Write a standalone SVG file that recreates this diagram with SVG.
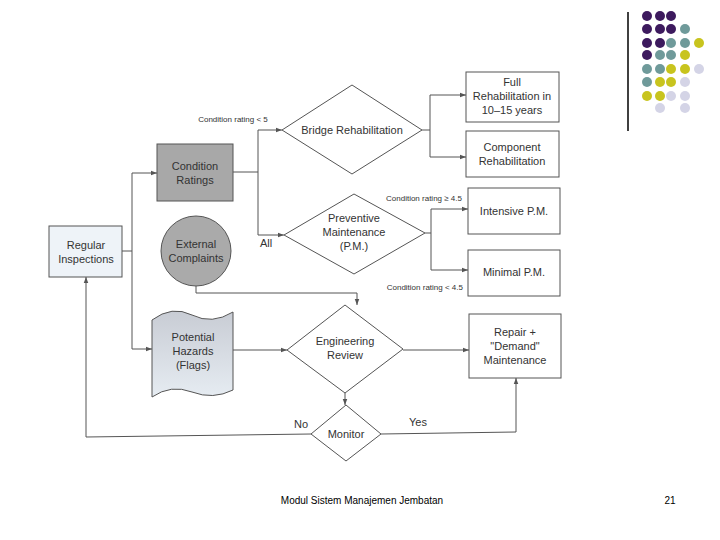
<svg xmlns="http://www.w3.org/2000/svg" width="720" height="540" viewBox="0 0 720 540">
<style>
text{font-family:"Liberation Sans",Arial,sans-serif;fill:#333;text-anchor:middle}
.t{font-size:11px}
.s{font-size:8px}
.box{fill:#fff;stroke:#555;stroke-width:1}
.ln{fill:none;stroke:#555;stroke-width:1}
.f{font-size:10px;fill:#000}
</style>
<defs>
<marker id="a" viewBox="0 0 8 8" refX="8" refY="4" markerWidth="6" markerHeight="6" orient="auto"><path d="M0,1 L8,4 L0,7z" fill="#555"/></marker>
<linearGradient id="g" x1="0" y1="0" x2="0" y2="1"><stop offset="0" stop-color="#c8ccd4"/><stop offset="1" stop-color="#e6ecf2"/></linearGradient>
</defs>
<rect width="720" height="540" fill="#fff"/>
<g id="deco">
<line x1="628" y1="12" x2="628" y2="131" stroke="#000" stroke-width="1.5"/>
<g fill="#3d1a5e"><circle cx="647" cy="16" r="5"/><circle cx="660" cy="16" r="5"/><circle cx="671" cy="16" r="5"/><circle cx="647" cy="29" r="5"/><circle cx="660" cy="29" r="5"/><circle cx="671" cy="29" r="5"/><circle cx="647" cy="43" r="5"/><circle cx="660" cy="43" r="5"/><circle cx="647" cy="55" r="5"/></g>
<g fill="#6f9a9a"><circle cx="685" cy="29" r="5"/><circle cx="671" cy="43" r="5"/><circle cx="685" cy="43" r="5"/><circle cx="660" cy="55" r="5"/><circle cx="671" cy="55" r="5"/><circle cx="647" cy="69" r="5"/><circle cx="660" cy="69" r="5"/><circle cx="647" cy="82" r="5"/></g>
<g fill="#c8c41e"><circle cx="699" cy="43" r="5"/><circle cx="685" cy="55" r="5"/><circle cx="671" cy="69" r="5"/><circle cx="685" cy="69" r="5"/><circle cx="660" cy="82" r="5"/><circle cx="671" cy="82" r="5"/><circle cx="647" cy="96" r="5"/><circle cx="660" cy="96" r="5"/></g>
<g fill="#d4d4e6"><circle cx="699" cy="69" r="5"/><circle cx="685" cy="82" r="5"/><circle cx="671" cy="96" r="5"/><circle cx="685" cy="96" r="5"/><circle cx="660" cy="108" r="5"/><circle cx="685" cy="108" r="5"/></g>
</g>
<g id="connectors" class="ln">
<path d="M122,251 H132 M132,173 V349"/>
<path d="M132,173 H157" marker-end="url(#a)"/>
<path d="M132,349 H152" marker-end="url(#a)"/>
<path d="M233,172 H258 M258,130 V235"/>
<path d="M258,130 H282" marker-end="url(#a)"/>
<path d="M258,235 H284" marker-end="url(#a)"/>
<path d="M422,130 H430 M430,95 V157"/>
<path d="M430,95 H466" marker-end="url(#a)"/>
<path d="M430,157 H466" marker-end="url(#a)"/>
<path d="M425,233 H431 M431,209 V270"/>
<path d="M431,209 H468" marker-end="url(#a)"/>
<path d="M431,270 H468" marker-end="url(#a)"/>
<path d="M196,286 V293 H357 V305" marker-end="url(#a)"/>
<path d="M233,350 H287" marker-end="url(#a)"/>
<path d="M403,350 H469" marker-end="url(#a)"/>
<path d="M345,393 V405" marker-end="url(#a)"/>
<path d="M311,434 L86,437 V277" marker-end="url(#a)"/>
<path d="M381,434 L516,432 V378" marker-end="url(#a)"/>
</g>
<g id="labels" class="s">
<text x="233" y="122">Condition rating &lt; 5</text>
<text x="462" y="201" text-anchor="end" style="text-anchor:end">Condition rating ≥ 4.5</text>
<text x="463" y="290" style="text-anchor:end">Condition rating &lt; 4.5</text>
<text x="266" y="247" class="t">All</text>
<text x="301" y="428" class="t">No</text>
<text x="418" y="426" class="t">Yes</text>
</g>
<g id="regular"><rect class="box" x="49" y="226" width="73" height="51" fill="#eef3f8" style="fill:#eef3f8"/><text class="t" x="86" y="249">Regular</text><text class="t" x="86" y="263">Inspections</text></g>
<g id="condition"><rect class="box" x="157" y="144" width="76" height="57" style="fill:#a8a8a8"/><text class="t" x="195" y="170">Condition</text><text class="t" x="195" y="184">Ratings</text></g>
<g id="external"><circle cx="196" cy="251" r="35" fill="#aaa" stroke="#555"/><text class="t" x="196" y="248">External</text><text class="t" x="196" y="262">Complaints</text></g>
<g id="hazards"><path d="M152,320 Q172,305 192,315 T233,312 V390 Q213,400 192,392 T152,397 Z" fill="url(#g)" stroke="#555"/><text class="t" x="193" y="341">Potential</text><text class="t" x="193" y="355">Hazards</text><text class="t" x="193" y="369">(Flags)</text></g>
<g id="bridge"><path class="box" d="M282,130 L352,85 L422,130 L352,174 Z"/><text class="t" x="352" y="134">Bridge Rehabilitation</text></g>
<g id="pm"><path class="box" d="M284,235 L354,194 L425,233 L354,274 Z"/><text class="t" x="354" y="222">Preventive</text><text class="t" x="354" y="236">Maintenance</text><text class="t" x="354" y="250">(P.M.)</text></g>
<g id="eng"><path class="box" d="M287,350 L345,305 L403,349 L345,393 Z"/><text class="t" x="345" y="345">Engineering</text><text class="t" x="345" y="359">Review</text></g>
<g id="monitor"><path class="box" d="M311,434 L346,405 L381,434 L346,461 Z"/><text class="t" x="346" y="438">Monitor</text></g>
<g id="full"><rect class="box" x="466" y="72" width="93" height="50"/><text class="t" x="512" y="86">Full</text><text class="t" x="512" y="100">Rehabilitation in</text><text class="t" x="512" y="114">10–15 years</text></g>
<g id="component"><rect class="box" x="466" y="131" width="93" height="46"/><text class="t" x="512" y="151">Component</text><text class="t" x="512" y="165">Rehabilitation</text></g>
<g id="intensive"><rect class="box" x="468" y="188" width="92" height="46"/><text class="t" x="514" y="215">Intensive P.M.</text></g>
<g id="minimal"><rect class="box" x="468" y="250" width="92" height="46"/><text class="t" x="514" y="276">Minimal P.M.</text></g>
<g id="repair"><rect class="box" x="469" y="314" width="92" height="64"/><text class="t" x="515" y="336">Repair +</text><text class="t" x="515" y="350">"Demand"</text><text class="t" x="515" y="364">Maintenance</text></g>
<g id="footer"><text class="f" x="362" y="504">Modul Sistem Manajemen Jembatan</text><text class="f" x="670" y="504">21</text></g>
</svg>
